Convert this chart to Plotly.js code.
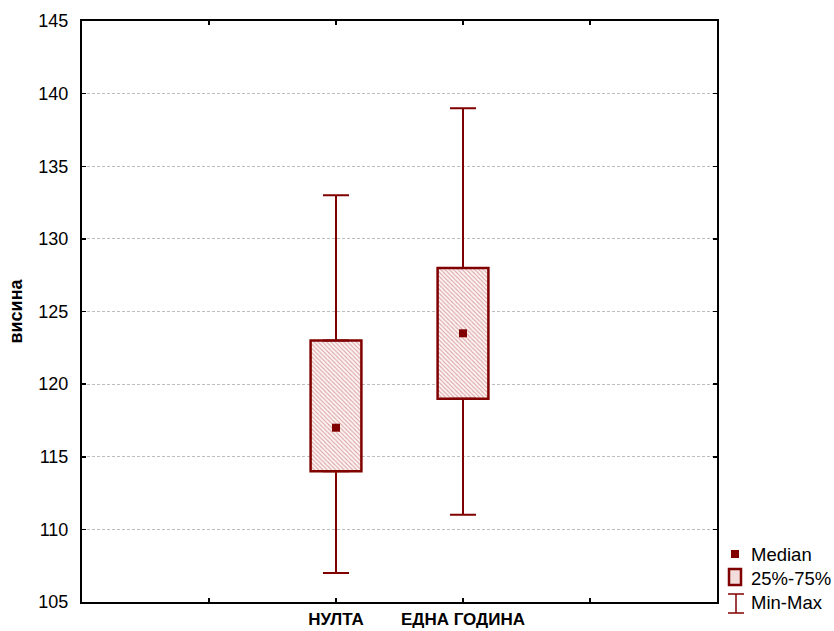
<!DOCTYPE html>
<html>
<head>
<meta charset="utf-8">
<script src="https://cdn.plot.ly/plotly-3.0.1.min.js"></script>
<style>
  html, body { margin: 0; padding: 0; background: #fff; }
  #chart { width: 834px; height: 631px; }
</style>
</head>
<body>
<div id="chart"></div>
<script>
// Height ("висина") summary by group: min, quartiles, median, max
const groups   = ['НУЛТА', 'ЕДНА ГОДИНА'];
const minVals  = [107, 111];
const q1Vals   = [114, 119];
const medians  = [117, 123.5];
const q3Vals   = [123, 128];
const maxVals  = [133, 139];

// Empty slots on both sides give the axis its outer tick marks
const axisCats = [' ', ...groups, '  '];
const legendLabels = ['Median', '25%-75%', 'Min-Max'];

const RED = '#800000';
const FONT = 'Liberation Sans, Arial, sans-serif';

// Plot-area geometry in pixels, used to place the hand-drawn legend
const W = 834, H = 631;
const M = { l: 82, r: 117, t: 21, b: 29 };
const pw = W - M.l - M.r, ph = H - M.t - M.b;
const px = x => (x - M.l) / pw;
const py = y => (H - M.b - y) / ph;

const traces = [
  // upper whiskers: Q3 -> max
  {
    type: 'scatter', mode: 'markers', x: groups, y: q3Vals,
    marker: { opacity: 0, size: 1 }, showlegend: false, hoverinfo: 'skip',
    error_y: { type: 'data', symmetric: false,
      array: maxVals.map((v, i) => v - q3Vals[i]), arrayminus: groups.map(() => 0),
      color: RED, thickness: 2, width: 13 }
  },
  // lower whiskers: min -> Q1
  {
    type: 'scatter', mode: 'markers', x: groups, y: q1Vals,
    marker: { opacity: 0, size: 1 }, showlegend: false, hoverinfo: 'skip',
    error_y: { type: 'data', symmetric: false,
      array: groups.map(() => 0), arrayminus: q1Vals.map((v, i) => v - minVals[i]),
      color: RED, thickness: 2, width: 13 }
  },
  // interquartile boxes
  {
    type: 'bar', x: groups, base: q1Vals,
    y: q3Vals.map((v, i) => v - q1Vals[i]),
    width: 0.4, showlegend: false, hoverinfo: 'skip',
    marker: {
      color: '#ffffff',
      line: { color: RED, width: 2.5 },
      pattern: { shape: '\\', fgcolor: '#dba3a3', bgcolor: '#fdf5f5', size: 3, solidity: 0.35 }
    }
  },
  // medians
  {
    type: 'scatter', mode: 'markers', x: groups, y: medians,
    marker: { symbol: 'square', size: 8, color: RED },
    showlegend: false, hoverinfo: 'skip'
  }
];

// Legend drawn by hand: icons as shapes, labels as annotations
const shapes = [
  { type: 'rect', xref: 'paper', yref: 'paper',
    x0: px(731), x1: px(739), y0: py(558), y1: py(550),
    fillcolor: RED, line: { width: 0 } },
  { type: 'rect', xref: 'paper', yref: 'paper',
    x0: px(729), x1: px(741), y0: py(585), y1: py(569),
    fillcolor: '#f3dcdc', line: { color: RED, width: 2.5 } },
  { type: 'line', xref: 'paper', yref: 'paper',
    x0: px(736), x1: px(736), y0: py(594), y1: py(613), line: { color: RED, width: 1.5 } },
  { type: 'line', xref: 'paper', yref: 'paper',
    x0: px(728), x1: px(744), y0: py(594), y1: py(594), line: { color: RED, width: 1.5 } },
  { type: 'line', xref: 'paper', yref: 'paper',
    x0: px(728), x1: px(744), y0: py(613), y1: py(613), line: { color: RED, width: 1.5 } }
];

const legendY = [554, 578, 602];
const annotations = legendLabels.map((t, i) => ({
  xref: 'paper', yref: 'paper', x: px(749), y: py(legendY[i]),
  xanchor: 'left', yanchor: 'middle', showarrow: false,
  text: t, font: { family: FONT, size: 18.5, color: '#000' }
}));

const layout = {
  width: W, height: H,
  margin: M,
  paper_bgcolor: '#fff', plot_bgcolor: '#fff',
  showlegend: false,
  font: { family: FONT, color: '#000' },
  xaxis: {
    type: 'category', categoryorder: 'array', categoryarray: axisCats,
    tickvals: axisCats, range: [-1, 4],
    showgrid: false, zeroline: false,
    showline: true, linecolor: '#000', linewidth: 2, mirror: 'ticks',
    ticks: 'inside', ticklen: 4, tickwidth: 1.5, tickcolor: '#000',
    tickfont: { family: FONT, size: 17, weight: 'bold', color: '#000' },
    ticklabelstandoff: 1
  },
  yaxis: {
    range: [105, 145], tickvals: [105, 110, 115, 120, 125, 130, 135, 140, 145],
    showgrid: true, gridcolor: '#bdbdbd', gridwidth: 1, griddash: '3px,2px',
    zeroline: false,
    showline: true, linecolor: '#000', linewidth: 2, mirror: 'ticks',
    ticks: 'inside', ticklen: 4, tickwidth: 1.5, tickcolor: '#000',
    tickfont: { family: FONT, size: 18, color: '#000' },
    ticklabelstandoff: 8,
    title: { text: 'висина', font: { family: FONT, size: 18, weight: 'bold', color: '#000' }, standoff: 11 }
  },
  shapes: shapes,
  annotations: annotations
};

Plotly.newPlot('chart', traces, layout, { displayModeBar: false, staticPlot: true });
</script>
</body>
</html>
